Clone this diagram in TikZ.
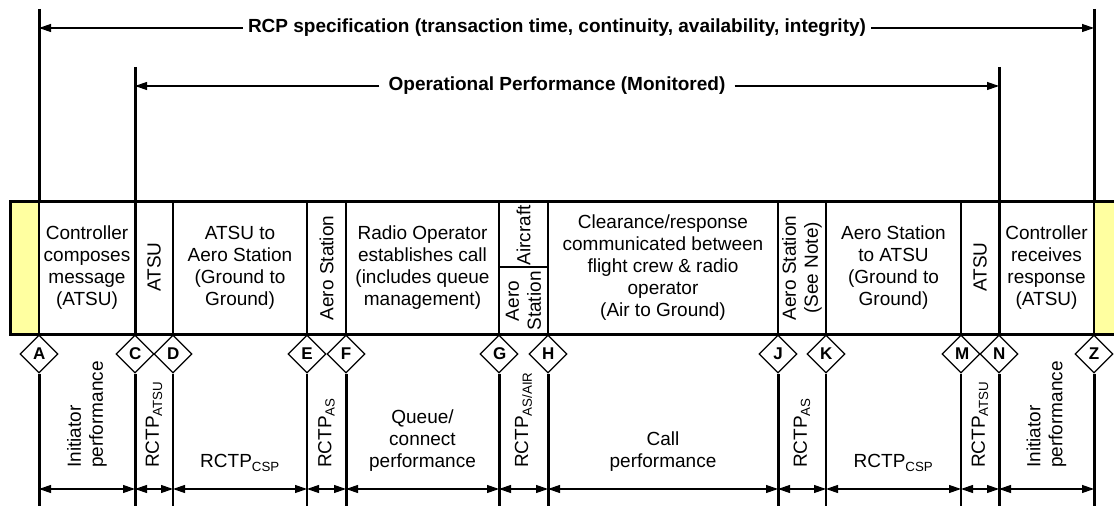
\documentclass[tikz,border=0pt]{standalone}
\usepackage{fontspec}
\setmainfont{Liberation Sans}
\usetikzlibrary{shapes.geometric, arrows.meta}
\definecolor{notepad}{RGB}{255,255,160}

\begin{document}
\begin{tikzpicture}[
    x = 1pt, y = 1pt,
    font = \fontsize{19}{22}\selectfont,
    every node/.style = {inner sep = 0pt},
    waypoint/.style = {draw, diamond, fill = white, line width = 1.2pt,
      inner sep = 3.5pt, text width = 12pt, text height = 12pt, text depth = 0pt,
      align = center, minimum width = 38pt, minimum height = 38pt,
      font = \fontsize{17}{17}\selectfont\bfseries},
    heavy/.style = {line width = 3pt},
    thin line/.style = {line width = 1.3pt},
    pointer/.style = {-{Triangle[length = 12pt, width = 8pt]}, line width = 1.2pt},
    dimline/.style = {{Triangle[length = 12pt, width = 8pt]}-{Triangle[length = 12pt, width = 8pt]},
      line width = 1.2pt},
    headline/.style = {font = \fontsize{19}{22}\selectfont\bfseries},
    cell/.style = {align = center},
    upright/.style = {rotate = 90, align = left, anchor = west}
  ]
  \useasboundingbox (0,0) rectangle (1114,506);

  % levels
  \coordinate (rcptop) at (0,497);
  \coordinate (opstop) at (0,439);
  \coordinate (boxtop) at (0,304);
  \coordinate (split)  at (0,239);
  \coordinate (boxbot) at (0,171);
  \coordinate (span)   at (0,17);
  \coordinate (floor)  at (0,0);

  % transaction points
  \foreach \name/\xpos in {A/39, C/135, D/173, E/307, F/346, G/499, H/548,
                           J/778, K/826, M/961, N/999, Z/1094}
    \node[waypoint] (\name) at (\xpos,152) {\name};

  % the box
  \fill[notepad] (10,171) rectangle (A |- boxtop);
  \fill[notepad] (Z |- boxbot) rectangle (1114,304);
  \foreach \name in {D, E, F, G, H, J, K, M}
    \draw[thin line] (\name |- boxtop) -- (\name |- boxbot);
  \foreach \name in {A, Z}
    \draw[line width = 2pt] (\name |- boxtop) -- (\name |- boxbot);
  \foreach \name in {C, N}
    \draw[heavy] (\name |- boxtop) -- (\name |- boxbot);
  \draw[thin line] (G |- split) -- (H |- split);
  \draw[heavy] (1114,304) -- (10,304) -- (10,171) -- (1114,171);

  % performance spans
  \draw[heavy] (A |- rcptop) -- (A |- boxtop);
  \draw[heavy] (Z |- rcptop) -- (Z |- boxtop);
  \draw[heavy] (C |- opstop) -- (C |- boxtop);
  \draw[heavy] (N |- opstop) -- (N |- boxtop);
  \node[headline, inner xsep = 5pt] (rcp) at (557,478)
    {RCP specification (transaction time, continuity, availability, integrity)};
  \node[headline, inner xsep = 9pt] (ops) at (557,420)
    {Operational Performance (Monitored)};
  \draw[pointer] (rcp) -- (A |- rcp);
  \draw[pointer] (rcp) -- (Z |- rcp);
  \draw[pointer] (ops) -- (C |- ops);
  \draw[pointer] (ops) -- (N |- ops);

  % box texts
  \node[cell] at (87,238) {Controller\\composes\\message\\(ATSU)};
  \node[rotate = 90] at (154,239) {ATSU};
  \node[cell] at (240,238) {ATSU to\\Aero Station\\(Ground to\\Ground)};
  \node[rotate = 90] at (326.5,238) {Aero Station};
  \node[cell] at (422.5,238) {Radio Operator\\establishes call\\(includes queue\\management)};
  \node[rotate = 90] at (523.5,270.5) {Aircraft};
  \node[rotate = 90, align = center] at (523.5,205) {Aero\\Station};
  \node[cell] at (663,238)
    {Clearance/response\\communicated between\\flight crew \& radio\\operator\\(Air to Ground)};
  \node[rotate = 90, align = center] at (802,238) {Aero Station\\(See Note)};
  \node[cell] at (893.5,238) {Aero Station\\to ATSU\\(Ground to\\Ground)};
  \node[rotate = 90] at (980,239) {ATSU};
  \node[cell] at (1046.5,238) {Controller\\receives\\response\\(ATSU)};

  % lines below the box
  \foreach \name in {A, C, F, G, H, J, N, Z}
    \draw[heavy] (\name.south) -- (\name |- floor);
  \foreach \name in {D, E, K, M}
    \draw[thin line] (\name.south) -- (\name |- floor);
  \foreach \from/\to in {A/C, C/D, D/E, E/F, F/G, G/H, H/J, J/K, K/M, M/N, N/Z}
    \draw[dimline] (\from |- span) -- (\to |- span);

  % span labels
  \node[upright] at (87,38) {Initiator\\performance};
  \node[upright] at (154,38) {RCTP\textsubscript{ATSU}};
  \node[anchor = base] at (240,38) {RCTP\textsubscript{CSP}};
  \node[upright] at (326.5,38) {RCTP\textsubscript{AS}};
  \node[cell, anchor = south] at (422.5,34) {Queue/\\connect\\performance};
  \node[upright] at (523.5,38) {RCTP\textsubscript{AS/AIR}};
  \node[cell, anchor = south] at (663,34) {Call\\performance};
  \node[upright] at (802,38) {RCTP\textsubscript{AS}};
  \node[anchor = base] at (893.5,38) {RCTP\textsubscript{CSP}};
  \node[upright] at (980,38) {RCTP\textsubscript{ATSU}};
  \node[upright] at (1046.5,38) {Initiator\\performance};
\end{tikzpicture}
\end{document}
